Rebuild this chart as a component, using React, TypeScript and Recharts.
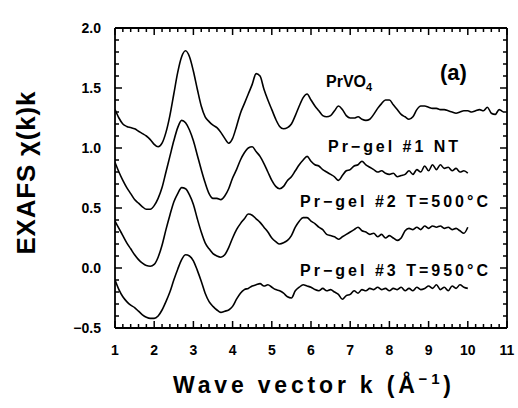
import React from "react";
import { LineChart, Line, XAxis, YAxis } from "recharts";

// sampling grid of wave vector k (1/Å)
const kGrid = [
  1.0, 1.1, 1.2, 1.3, 1.4, 1.5, 1.6, 1.7, 1.8, 1.9,
  2.0, 2.1, 2.2, 2.3, 2.4, 2.5, 2.6, 2.7, 2.8, 2.9,
  3.0, 3.1, 3.2, 3.3, 3.4, 3.5, 3.6, 3.7, 3.8, 3.9,
  4.0, 4.1, 4.2, 4.3, 4.4, 4.5, 4.6, 4.7, 4.8, 4.9,
  5.0, 5.1, 5.2, 5.3, 5.4, 5.5, 5.6, 5.7, 5.8, 5.9,
  6.0, 6.1, 6.2, 6.3, 6.4, 6.5, 6.6, 6.7, 6.8, 6.9,
  7.0, 7.1, 7.2, 7.3, 7.4, 7.5, 7.6, 7.7, 7.8, 7.9,
  8.0, 8.1, 8.2, 8.3, 8.4, 8.5, 8.6, 8.7, 8.8, 8.9,
  9.0, 9.1, 9.2, 9.3, 9.4, 9.5, 9.6, 9.7, 9.8, 9.9,
  10.0, 10.1, 10.2, 10.3, 10.4, 10.5, 10.6, 10.7, 10.8, 10.9,
];

const prvo4 = [
  1.32, 1.25, 1.2, 1.18, 1.17, 1.16, 1.14, 1.12, 1.1, 1.07,
  1.03, 1.01, 1.04, 1.13, 1.27, 1.45, 1.63, 1.76, 1.81, 1.76,
  1.64, 1.49, 1.35, 1.26, 1.22, 1.19, 1.17, 1.13, 1.08, 1.04,
  1.08, 1.18, 1.29, 1.37, 1.45, 1.53, 1.62, 1.6, 1.49, 1.4,
  1.32, 1.24, 1.18, 1.16, 1.17, 1.2, 1.27, 1.35, 1.42, 1.45,
  1.4, 1.35, 1.31, 1.27, 1.26, 1.27, 1.31, 1.35, 1.32, 1.27,
  1.25, 1.25, 1.26, 1.24, 1.23, 1.24, 1.28, 1.33, 1.37, 1.4,
  1.4, 1.36, 1.32, 1.28, 1.26, 1.24, 1.26, 1.32, 1.35, 1.35,
  1.34, 1.33, 1.33, 1.32, 1.32, 1.31, 1.3, 1.29, 1.3, 1.31,
  1.31, 1.3, 1.31, 1.32, 1.31, 1.34, 1.29, 1.28, 1.32, 1.3,
];

const gel1 = [
  0.88, 0.8, 0.73, 0.67, 0.62, 0.57, 0.54, 0.51, 0.49, 0.49,
  0.52, 0.58, 0.67, 0.8, 0.93, 1.06, 1.17, 1.23, 1.21, 1.15,
  1.06, 0.94, 0.82, 0.71, 0.62, 0.58, 0.58, 0.57, 0.6, 0.66,
  0.75, 0.82, 0.9, 0.96, 1.0, 1.01, 0.97, 0.93, 0.87, 0.8,
  0.73, 0.68, 0.66, 0.68, 0.73, 0.76, 0.81, 0.86, 0.9, 0.93,
  0.89, 0.86, 0.85, 0.82, 0.8, 0.78, 0.76, 0.73, 0.77, 0.81,
  0.82, 0.85, 0.86, 0.89, 0.86, 0.84, 0.82, 0.8, 0.81, 0.79,
  0.78, 0.79, 0.76, 0.77, 0.78, 0.81, 0.78, 0.82, 0.8, 0.85,
  0.81, 0.86, 0.82, 0.86, 0.83, 0.84, 0.81, 0.83, 0.8, 0.81,
  0.79,
];

const gel2 = [
  0.39, 0.33, 0.27, 0.21, 0.16, 0.11, 0.07, 0.04, 0.02, 0.015,
  0.03, 0.09, 0.19, 0.32, 0.44, 0.55, 0.62, 0.67, 0.66, 0.61,
  0.53, 0.41, 0.3, 0.21, 0.16, 0.12, 0.1, 0.09, 0.11, 0.17,
  0.25, 0.32, 0.37, 0.41, 0.45, 0.44, 0.41, 0.38, 0.34, 0.3,
  0.25, 0.22, 0.2, 0.21, 0.23, 0.27, 0.34, 0.39, 0.42, 0.42,
  0.39, 0.37, 0.34, 0.32, 0.28, 0.27, 0.26, 0.24, 0.26, 0.28,
  0.3, 0.32, 0.34, 0.31, 0.3, 0.28, 0.29, 0.26, 0.28, 0.25,
  0.27, 0.25, 0.23, 0.25, 0.31, 0.33, 0.32, 0.34, 0.32, 0.35,
  0.33, 0.35, 0.34, 0.35, 0.33, 0.34, 0.32, 0.33, 0.31, 0.29,
  0.34,
];

const gel3 = [
  -0.1, -0.18, -0.24, -0.28, -0.31, -0.33, -0.36, -0.39, -0.41, -0.42,
  -0.42, -0.4, -0.35, -0.28, -0.2, -0.1, -0.01, 0.07, 0.11, 0.1,
  0.06, -0.02, -0.11, -0.21, -0.28, -0.32, -0.35, -0.37, -0.36, -0.35,
  -0.32, -0.26, -0.21, -0.18, -0.17, -0.15, -0.14, -0.13, -0.15, -0.14,
  -0.16, -0.18, -0.19, -0.21, -0.24, -0.25, -0.19, -0.16, -0.14, -0.15,
  -0.16, -0.18, -0.19, -0.17, -0.19, -0.18, -0.2, -0.22, -0.26, -0.23,
  -0.22, -0.19, -0.21, -0.18, -0.19, -0.17, -0.18, -0.16, -0.18, -0.17,
  -0.19, -0.17, -0.18, -0.16, -0.19, -0.17, -0.19, -0.16, -0.18, -0.17,
  -0.15, -0.17, -0.14, -0.18, -0.16, -0.19, -0.15, -0.17, -0.14, -0.16,
  -0.17,
];

const xMajorTicks = [1, 2, 3, 4, 5, 6, 7, 8, 9, 10, 11];
const yMajorTicks = [-0.5, 0, 0.5, 1, 1.5, 2];

const W = 518;
const H = 408;
const FONT = "'Liberation Sans', Arial, Helvetica, sans-serif";
const INK = "#000";

// plot box edges
const PL = 115;
const PR = 507;
const PT = 28;
const PB = 328;

const toPoints = (vals: number[]) => vals.map((v, i) => ({ k: kGrid[i], v }));

// majors plus minor ticks between each pair
const withMinor = (majors: number[], parts: number) => {
  const out: number[] = [];
  majors.forEach((m, i) => {
    out.push(m);
    if (i < majors.length - 1) {
      const step = (majors[i + 1] - m) / parts;
      for (let j = 1; j < parts; j++) out.push(+(m + j * step).toFixed(3));
    }
  });
  return out;
};

const xTicks = withMinor(xMajorTicks, 5);
const yTicks = withMinor(yMajorTicks, 5);

const isMajorX = (v: number) => xMajorTicks.some((m) => Math.abs(m - v) < 1e-6);
const isMajorY = (v: number) => yMajorTicks.some((m) => Math.abs(m - v) < 1e-6);

const tickText = {
  fontFamily: FONT,
  fontSize: 14,
  fontWeight: 700,
  fill: "#000",
};

const BottomTick = (props: any) => {
  const { x, payload } = props;
  const major = isMajorX(payload.value);
  return (
    <g>
      <line x1={x} y1={PB} x2={x} y2={PB - (major ? 7 : 4)} stroke={INK} strokeWidth={1.5} />
      {major && (
        <text x={x} y={PB + 27} textAnchor="middle" {...tickText}>
          {payload.value}
        </text>
      )}
    </g>
  );
};

const TopTick = (props: any) => {
  const { x, payload } = props;
  const major = isMajorX(payload.value);
  return <line x1={x} y1={PT} x2={x} y2={PT + (major ? 7 : 4)} stroke={INK} strokeWidth={1.5} />;
};

const LeftTick = (props: any) => {
  const { y, payload } = props;
  const major = isMajorY(payload.value);
  return (
    <g>
      <line x1={PL} y1={y} x2={PL + (major ? 7 : 4)} y2={y} stroke={INK} strokeWidth={1.5} />
      {major && (
        <text x={PL - 14} y={y + 5} textAnchor="end" {...tickText}>
          {payload.value.toFixed(1).replace("-", "\u2212")}
        </text>
      )}
    </g>
  );
};

const RightTick = (props: any) => {
  const { y, payload } = props;
  const major = isMajorY(payload.value);
  return <line x1={PR} y1={y} x2={PR - (major ? 7 : 4)} y2={y} stroke={INK} strokeWidth={1.5} />;
};

const series = [prvo4, gel1, gel2, gel3];

const labelStyle = { fontFamily: FONT, fontWeight: 700, fill: "#000" };
const frame = { stroke: INK, strokeWidth: 1.8 };

export default function App() {
  return (
    <div style={{ position: "absolute", left: 0, top: 0, width: W, height: H, background: "#fff" }}>
      <LineChart
        width={W}
        height={H}
        margin={{ top: PT - 10, right: W - PR - 10, bottom: H - PB - 10, left: PL - 10 }}
      >
        <XAxis
          xAxisId="bottom"
          type="number"
          dataKey="k"
          domain={[1, 11]}
          ticks={xTicks}
          interval={0}
          height={10}
          tickSize={0}
          tickMargin={0}
          tickLine={false}
          tick={BottomTick}
          axisLine={frame}
          allowDataOverflow
        />
        <XAxis
          xAxisId="upper"
          orientation="top"
          type="number"
          dataKey="k"
          domain={[1, 11]}
          ticks={xTicks}
          interval={0}
          height={10}
          tickSize={0}
          tickMargin={0}
          tickLine={false}
          tick={TopTick}
          axisLine={frame}
          allowDataOverflow
        />
        <YAxis
          yAxisId="left"
          type="number"
          domain={[-0.5, 2]}
          ticks={yTicks}
          interval={0}
          width={10}
          tickSize={0}
          tickMargin={0}
          tickLine={false}
          tick={LeftTick}
          axisLine={frame}
          allowDataOverflow
        />
        <YAxis
          yAxisId="side"
          orientation="right"
          type="number"
          domain={[-0.5, 2]}
          ticks={yTicks}
          interval={0}
          width={10}
          tickSize={0}
          tickMargin={0}
          tickLine={false}
          tick={RightTick}
          axisLine={frame}
          allowDataOverflow
        />
        {series.map((vals, i) => (
          <Line
            key={i}
            xAxisId="bottom"
            yAxisId="left"
            data={toPoints(vals)}
            dataKey="v"
            type="monotone"
            stroke="#000"
            strokeWidth={1.6}
            dot={false}
            isAnimationActive={false}
          />
        ))}
      </LineChart>
      <svg width={W} height={H} style={{ position: "absolute", left: 0, top: 0 }}>
        <text
          transform="translate(35, 173) rotate(-90)"
          textAnchor="middle"
          fontSize={26}
          textLength={163}
          lengthAdjust="spacing"
          {...labelStyle}
        >
          EXAFS χ(k)k
        </text>
        <text x={173} y={393} fontSize={23} textLength={278} lengthAdjust="spacing" {...labelStyle}>
          Wave vector k (Å
          <tspan fontSize={15} dy={-9}>{"\u22121"}</tspan>
          <tspan dy={9}>)</tspan>
        </text>
        <text x={440} y={80} fontSize={22} {...labelStyle}>
          (a)
        </text>
        <text x={326} y={87} fontSize={16} {...labelStyle}>
          PrVO
          <tspan fontSize={11} dy={4}>4</tspan>
        </text>
        <text x={328} y={152} fontSize={16} textLength={130} lengthAdjust="spacing" {...labelStyle}>
          Pr−gel #1 NT
        </text>
        <text x={300} y={207} fontSize={16} textLength={188} lengthAdjust="spacing" {...labelStyle}>
          Pr−gel #2 T=500°C
        </text>
        <text x={300} y={276} fontSize={16} textLength={188} lengthAdjust="spacing" {...labelStyle}>
          Pr−gel #3 T=950°C
        </text>
      </svg>
    </div>
  );
}
